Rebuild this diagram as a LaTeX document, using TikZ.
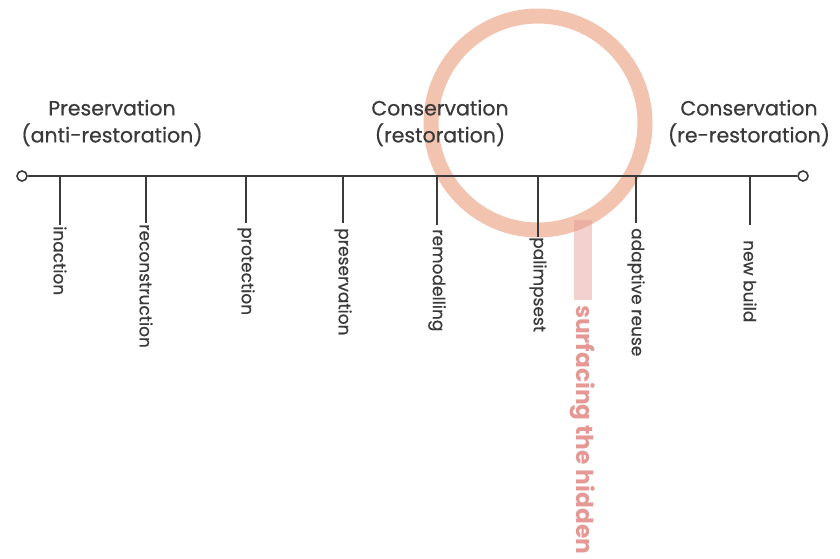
\documentclass[tikz,border=0pt]{standalone}
\usepackage{fontspec}
\setmainfont{Poppins}[FakeBold=0.6]
\newfontfamily\themefont{Poppins}
\definecolor{ink}{HTML}{3A3A3A}
\definecolor{salmon}{RGB}{242,196,176}
\definecolor{rose}{RGB}{229,152,148}
\begin{document}
\begin{tikzpicture}[x=1pt,y=-1pt,
  axis/.style={draw=ink,line width=1.7pt},
  endcap/.style={circle,draw=ink,line width=1.6pt,fill=white,inner sep=0pt,minimum size=10pt},
  tickline/.style={draw=ink,line width=1.4pt},
  ticklabel/.style={rotate=-90,anchor=west,inner sep=0pt,text=ink,font=\fontsize{17}{20}\selectfont},
  heading/.style={align=center,text=ink,font=\fontsize{20.5}{27}\selectfont},
  ring/.style={draw=salmon,line width=15pt},
  bar/.style={fill=rose,opacity=0.45},
  theme/.style={rotate=-90,anchor=west,inner sep=0pt,text=rose,font=\themefont\fontsize{23.3}{26}\selectfont\bfseries},
]
\useasboundingbox (0,0) rectangle (840,558);

% highlight ring around the middle of the scale
\draw[ring] (538,123) circle (107);

% end points and the axis between them
\node[endcap] (left) at (22,176) {};
\node[endcap] (right) at (803,176) {};
\draw[axis] (left) -- (right);

% stages along the axis: name / x / tick length / label gap / label
\foreach \n/\x/\len/\gap/\txt in {
    a/60/49/1/inaction,
    b/146/47/1/reconstruction,
    c/246/47/4/protection,
    d/343/47/5/preservation,
    e/437/49/4/remodelling,
    f/538/61/0/palimpsest,
    g/636/47/5/adaptive reuse,
    h/750/49/15/new build}{
  \coordinate (t\n) at (\x,176);
  \coordinate (e\n) at (\x,176+\len);
  \draw[tickline] (t\n) -- (e\n);
  \node[ticklabel] (l\n) at ([yshift=-\gap pt]e\n) {\txt};
}

% headings above the axis
\node[heading] (h1) at (112,123) {Preservation\\(anti-restoration)};
\node[heading] (h2) at (440,123) {Conservation\\(restoration)};
\node[heading] (h3) at (749,123) {Conservation\\(re-restoration)};

% stem hanging from the ring with its caption
\fill[bar] (574,220) rectangle (592,300);
\node[theme] (theme) at (583,305) {surfacing the hidden};
\end{tikzpicture}
\end{document}
